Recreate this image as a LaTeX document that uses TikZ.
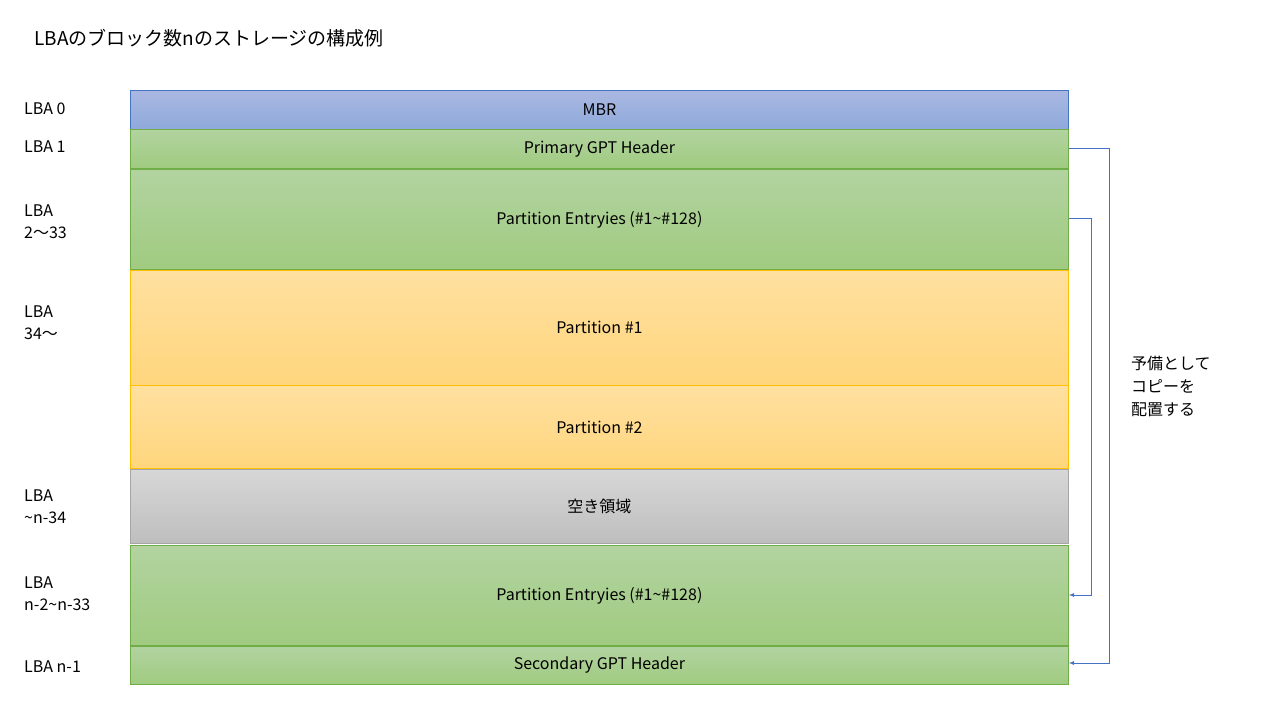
\documentclass[tikz,border=0pt]{standalone}
\usepackage{fontspec}
\setmainfont{Noto Sans CJK JP}
\definecolor{bluL}{RGB}{68,114,196}
\definecolor{bluT}{RGB}{170,184,225}
\definecolor{bluB}{RGB}{142,169,219}
\definecolor{grnL}{RGB}{112,173,71}
\definecolor{grnT}{RGB}{178,211,160}
\definecolor{grnB}{RGB}{160,203,128}
\definecolor{orgL}{RGB}{255,192,0}
\definecolor{orgT}{RGB}{255,224,160}
\definecolor{orgB}{RGB}{255,214,125}
\definecolor{gryL}{RGB}{165,165,165}
\definecolor{gryT}{RGB}{215,215,215}
\definecolor{gryB}{RGB}{190,190,190}
\begin{document}
\begin{tikzpicture}[x=1pt,y=-1pt,
 txt/.style={font=\fontsize{16}{20}\selectfont,inner sep=0pt},
 lbl/.style={txt,anchor=west,align=left},
 box/.style={line width=0.8pt,minimum width=938pt,anchor=north west,inner sep=0pt},
 blu/.style={box,draw=bluL,top color=bluT,bottom color=bluB},
 grn/.style={box,draw=grnL,top color=grnT,bottom color=grnB},
 org/.style={box,draw=orgL,top color=orgT,bottom color=orgB},
 gry/.style={box,draw=gryL,top color=gryT,bottom color=gryB},
 arr/.style={draw=bluL,line width=0.8pt,-latex}]
\useasboundingbox (0,0) rectangle (1280,720);
\node[txt,anchor=west] (title) at (34,38) {\fontsize{19}{22}\selectfont LBAのブロック数nのストレージの構成例};
\node[blu,minimum height=39pt] (mbr) at (130,90) {};
\node[txt] at (mbr) {MBR};
\node[grn,minimum height=39pt] (pgh) at (130,129) {};
\node[txt] at (pgh) {Primary GPT Header};
\node[grn,minimum height=100pt] (pe1) at (130,169) {};
\node[txt] at (pe1) {Partition Entryies (\#1\textasciitilde\#128)};
\node[org,minimum height=115pt] (p1) at (130,270) {};
\node[txt] at (p1) {Partition \#1};
\node[org,minimum height=83pt] (p2) at (130,385) {};
\node[txt] at (p2) {Partition \#2};
\node[gry,minimum height=74pt] (free) at (130,469) {};
\node[txt] at (free) {空き領域};
\node[grn,minimum height=100pt] (pe2) at (130,545) {};
\node[txt] at (pe2) {Partition Entryies (\#1\textasciitilde\#128)};
\node[grn,minimum height=38pt] (sgh) at (130,646) {};
\node[txt] at (sgh) {Secondary GPT Header};
\node[lbl] (l0) at (24,109) {LBA 0};
\node[lbl] (l1) at (24,147) {LBA 1};
\node[lbl] (l2) at (24,222) {LBA\\[2pt]2～33};
\node[lbl] (l3) at (24,323) {LBA\\[2pt]34～};
\node[lbl] (l4) at (24,507) {LBA\\[2pt]\textasciitilde n-34};
\node[lbl] (l5) at (24,594) {LBA\\[2pt]n-2\textasciitilde n-33};
\node[lbl] (l6) at (24,667) {LBA n-1};
\node[lbl] (note) at (1131,386) {予備として\\[3pt]コピーを\\[3pt]配置する};
\draw[arr] (pgh.east |- 0,148) -- (1109,148) -- (1109,663) -- (sgh.east |- 0,663);
\draw[arr] (pe1.east |- 0,218) -- (1091,218) -- (1091,595) -- (pe2.east |- 0,595);
\end{tikzpicture}
\end{document}
